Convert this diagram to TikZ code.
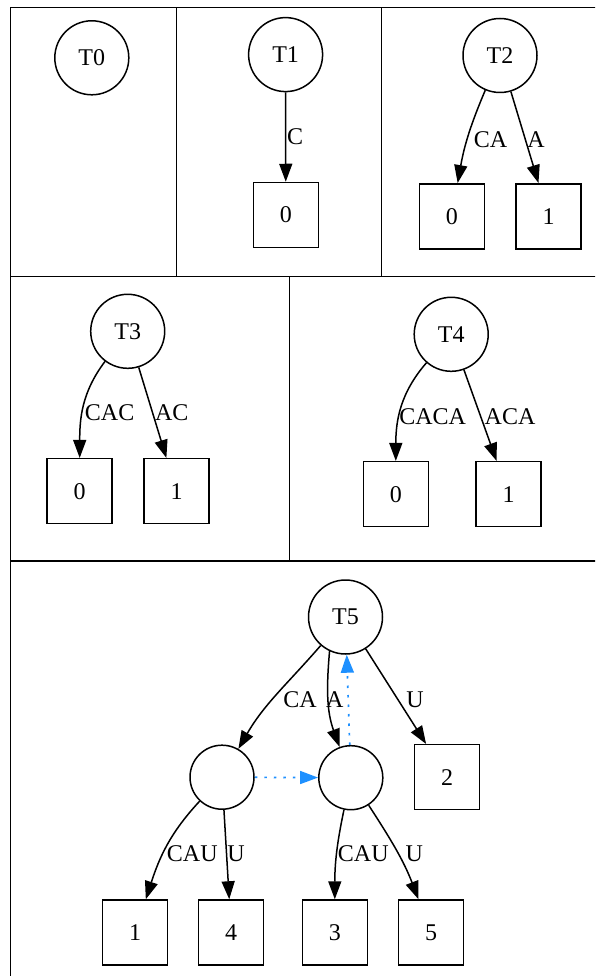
\documentclass[tikz,border=0pt]{standalone}
\usepackage{fontspec}
\setmainfont{Liberation Serif}
\usetikzlibrary{arrows.meta}
\definecolor{dodger}{HTML}{1E90FF}
\begin{document}
\begin{tikzpicture}[x=1pt,y=1pt,
  font=\fontsize{24}{28}\selectfont,
  tnode/.style={circle,draw,line width=1.5pt,minimum size=74pt,inner sep=0pt},
  snode/.style={circle,draw,line width=1.5pt,minimum size=64pt,inner sep=0pt},
  leaf/.style={rectangle,draw,line width=1.5pt,minimum width=65pt,minimum height=65pt,inner sep=0pt},
  elabel/.style={inner sep=0pt},
  edge/.style={line width=1.5pt,-{Triangle[length=18pt,width=13pt]}},
  blueedge/.style={line width=1.7pt,color=dodger,dash pattern=on 2.5pt off 7pt,-{Triangle[length=18pt,width=13pt]}},
  frame/.style={line width=1.3pt}]
\useasboundingbox (0,0) rectangle (595,-976);
\clip (0,0) rectangle (595,-976);
% frame
\draw[frame] (10.5,-985) -- (10.5,-7.7) -- (605,-7.7);
\draw[frame] (10.5,-276.7) -- (605,-276.7);
\draw[frame] (10.5,-561) -- (605,-561);
\draw[frame] (176.5,-7.7) -- (176.5,-276.7);
\draw[frame] (381.4,-7.7) -- (381.4,-276.7);
\draw[frame] (289.2,-276.7) -- (289.2,-561);
% T0
\node[tnode] (T0) at (91.8,-57.8) {T0};
% T1
\node[tnode] (T1) at (285.6,-54.6) {T1};
\node[leaf] (T1a) at (285.8,-215) {0};
\draw[edge] (T1) -- (T1a);
\node[elabel] (lC) at (295,-137) {C};
% T2
\node[tnode] (T2) at (500,-55.5) {T2};
\node[leaf] (T2a) at (451.8,-216.3) {0};
\node[leaf] (T2b) at (548.5,-216.3) {1};
\draw[edge] (T2) to[out=247,in=80] (T2a);
\draw[edge] (T2) -- (T2b);
\node[elabel] (lCA2) at (490.5,-140) {CA};
\node[elabel] (lA2) at (536,-140) {A};
% T3
\node[tnode] (T3) at (127.7,-331.3) {T3};
\node[leaf] (T3a) at (79.7,-491.2) {0};
\node[leaf] (T3b) at (176.5,-491.2) {1};
\draw[edge] (T3) to[out=233,in=90] (T3a);
\draw[edge] (T3) -- (T3b);
\node[elabel] (lCAC) at (109.6,-413) {CAC};
\node[elabel] (lAC) at (171.8,-413) {AC};
% T4
\node[tnode] (T4) at (451.2,-334.3) {T4};
\node[leaf] (T4a) at (395.8,-494.2) {0};
\node[leaf] (T4b) at (508.5,-494.2) {1};
\draw[edge] (T4) to[out=229,in=90] (T4a);
\draw[edge] (T4) -- (T4b);
\node[elabel] (lCACA) at (432.6,-416.7) {CACA};
\node[elabel] (lACA) at (510,-416.7) {ACA};
% T5
\node[tnode] (T5) at (345.5,-617) {T5};
\node[snode] (L) at (222,-777.2) {};
\node[snode] (R) at (350.8,-777.7) {};
\node[leaf] (b2) at (447.2,-777.2) {2};
\node[leaf] (b1) at (135,-932.5) {1};
\node[leaf] (b4) at (231.2,-932.5) {4};
\node[leaf] (b3) at (334.8,-932.5) {3};
\node[leaf] (b5) at (431.2,-932.5) {5};
\draw[edge] (T5) to[out=229,in=60] (L);
\draw[edge] (T5.245) to[out=265,in=110] (R);
\draw[edge] (T5) -- (b2);
\draw[blueedge] (R) -- (T5);
\draw[blueedge] (L) -- (R);
\draw[edge] (L) to[out=227,in=72] (b1);
\draw[edge] (L) -- (b4);
\draw[edge] (R) to[out=258,in=90] (b3);
\draw[edge] (R) to[out=303,in=111] (b5);
\node[elabel] (lCA5) at (300,-700) {CA};
\node[elabel] (lA5) at (334.7,-700) {A};
\node[elabel] (lU5) at (415,-700) {U};
\node[elabel] (lCAUL) at (192.3,-853.3) {CAU};
\node[elabel] (lUL) at (236,-853.3) {U};
\node[elabel] (lCAUR) at (363.3,-853.3) {CAU};
\node[elabel] (lUR) at (414.4,-853.3) {U};
\end{tikzpicture}
\end{document}
